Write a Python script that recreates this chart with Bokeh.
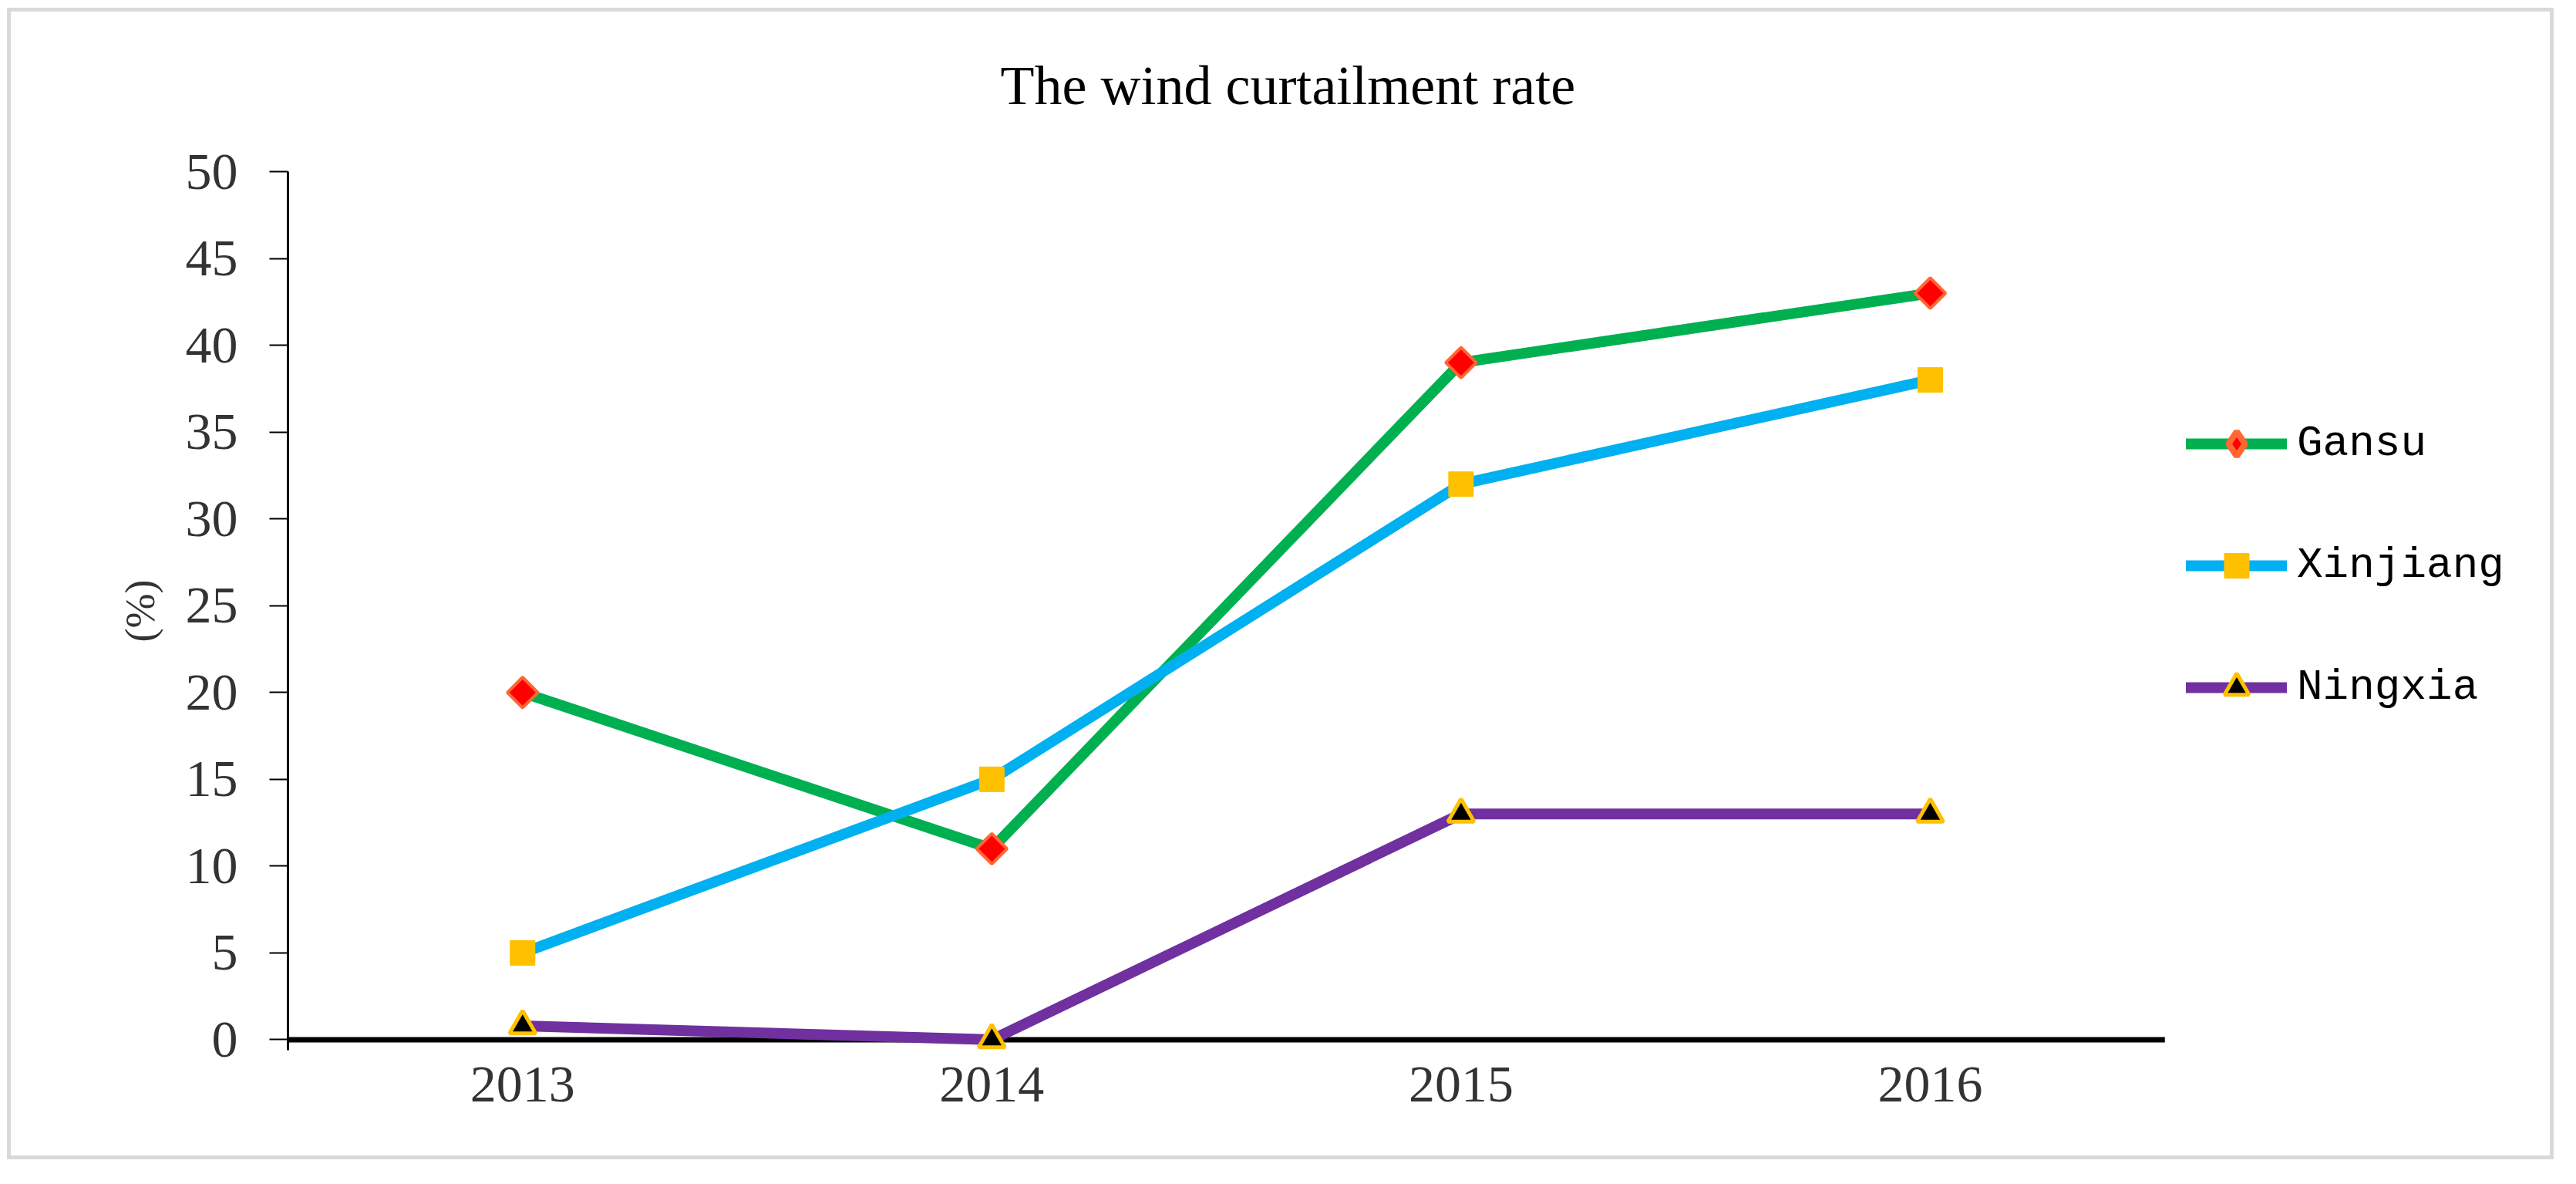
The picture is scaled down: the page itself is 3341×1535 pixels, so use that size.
import math
from bokeh.plotting import figure
from bokeh.models import Range1d, Legend, LegendItem, FixedTicker, Title
from bokeh.embed import file_html
from bokeh.resources import INLINE

# ---- data ----
years = ["2013", "2014", "2015", "2016"]
gansu = [20, 11, 39, 43]
xinjiang = [5, 15, 32, 38]
ningxia = [0.8, 0, 13, 13]
y_ticks = [0, 5, 10, 15, 20, 25, 30, 35, 40, 45, 50]
title_text = "The wind curtailment rate"
y_label = "(%)"
series_names = ["Gansu", "Xinjiang", "Ningxia"]

# category positions on a numeric scale (one unit per category, centred)
x_pos = [i + 0.5 for i in range(len(years))]

# ---- layout constants ----
W, H = 3303, 1493          # border box of the figure (5 px CSS border)
CW, CH = W - 10, H - 10     # canvas
LEFT, TOP, BOTTOM, RIGHT = 359, 207, 147, 0
CAT_PX = 606.5              # pixel width of one category
x_end = (CW - LEFT - RIGHT) / CAT_PX

p = figure(width=W, height=H, x_range=Range1d(0, x_end), y_range=Range1d(-0.6, 50),
           output_backend="svg", toolbar_location=None,
           min_border_left=LEFT, min_border_right=RIGHT,
           min_border_top=TOP, min_border_bottom=BOTTOM,
           title=None)
p.styles = {"border": "5px solid #D9D9D9", "transform": "translate(9px, 10px)"}
p.background_fill_color = "white"
p.border_fill_color = "white"
p.outline_line_color = None
p.grid.visible = False

# title (a small spacer between frame and title sets its height)
p.add_layout(Title(text=" ", text_font_size="2px", standoff=68), "above")
p.add_layout(Title(text=title_text, text_font="Liberation Serif",
                   text_font_size="72px", text_font_style="normal",
                   text_color="black", align="left", offset=924, standoff=0),
             "above")

# y axis
ya = p.yaxis[0]
ya.ticker = y_ticks
ya.bounds = (-0.7, 50)
ya.axis_line_width = 3
ya.axis_line_color = "black"
ya.major_tick_line_width = 2
ya.major_tick_line_color = "black"
ya.major_tick_out = 24
ya.major_tick_in = 0
ya.minor_tick_line_color = None
ya.major_label_text_font = "Liberation Serif"
ya.major_label_text_font_size = "68px"
ya.major_label_text_color = "#333333"
ya.major_label_standoff = 41
ya.axis_label = y_label
ya.axis_label_text_font = "Liberation Serif"
ya.axis_label_text_font_size = "54px"
ya.axis_label_text_font_style = "normal"
ya.axis_label_text_color = "#333333"
ya.axis_label_standoff = 26

# x axis: category labels at the category centres
xa = p.xaxis[0]
xa.ticker = FixedTicker(ticks=x_pos)
xa.major_label_overrides = {x: y for x, y in zip(x_pos, years)}
xa.axis_line_color = None
xa.major_tick_line_color = None
xa.major_tick_out = 0
xa.major_tick_in = 0
xa.minor_tick_line_color = None
xa.major_label_text_font = "Liberation Serif"
xa.major_label_text_font_size = "68px"
xa.major_label_text_color = "#333333"
xa.major_label_standoff = 22

# visible horizontal axis line at y = 0 across the category area
p.segment(x0=[0], y0=[0], x1=[len(years)], y1=[0], line_color="black", line_width=7)

# series
r1 = p.line(x_pos, gansu, line_color="#00B050", line_width=14,
            line_join="round", line_cap="round")
d1 = p.scatter(x_pos, gansu, marker="diamond", size=8,
               fill_color="#FF0000", line_color="#FF6633", line_width=8)
s1 = p.scatter(x_pos, gansu, marker="square", size=28, angle=math.pi / 4,
               fill_color="#FF0000", line_color="#FF6633", line_width=4)
r2 = p.line(x_pos, xinjiang, line_color="#00B0F0", line_width=14,
            line_join="round", line_cap="round")
s2 = p.scatter(x_pos, xinjiang, marker="square", size=32,
               fill_color="#FFC000", line_color="#FFC000", line_width=1)
r3 = p.line(x_pos, ningxia, line_color="#7030A0", line_width=14,
            line_join="round", line_cap="round")
s3 = p.scatter(x_pos, ningxia, marker="triangle", size=34,
               fill_color="black", line_color="#FFC000", line_width=5)
for r in (r1, d1, s1, r2, s2, r3, s3):
    r.level = "overlay"

legend = Legend(
    items=[LegendItem(label=series_names[0], renderers=[r1, d1]),
           LegendItem(label=series_names[1], renderers=[r2, s2]),
           LegendItem(label=series_names[2], renderers=[r3, s3])],
    location=(2462, 430), orientation="vertical",
    glyph_width=131, glyph_height=80, label_height=80, spacing=78,
    label_standoff=13, padding=0, margin=0,
    border_line_color=None, background_fill_alpha=0,
    label_text_font="Liberation Mono", label_text_font_size="56px",
    label_text_color="black")
p.add_layout(legend)

open("out.html", "w").write(file_html(p, INLINE))
